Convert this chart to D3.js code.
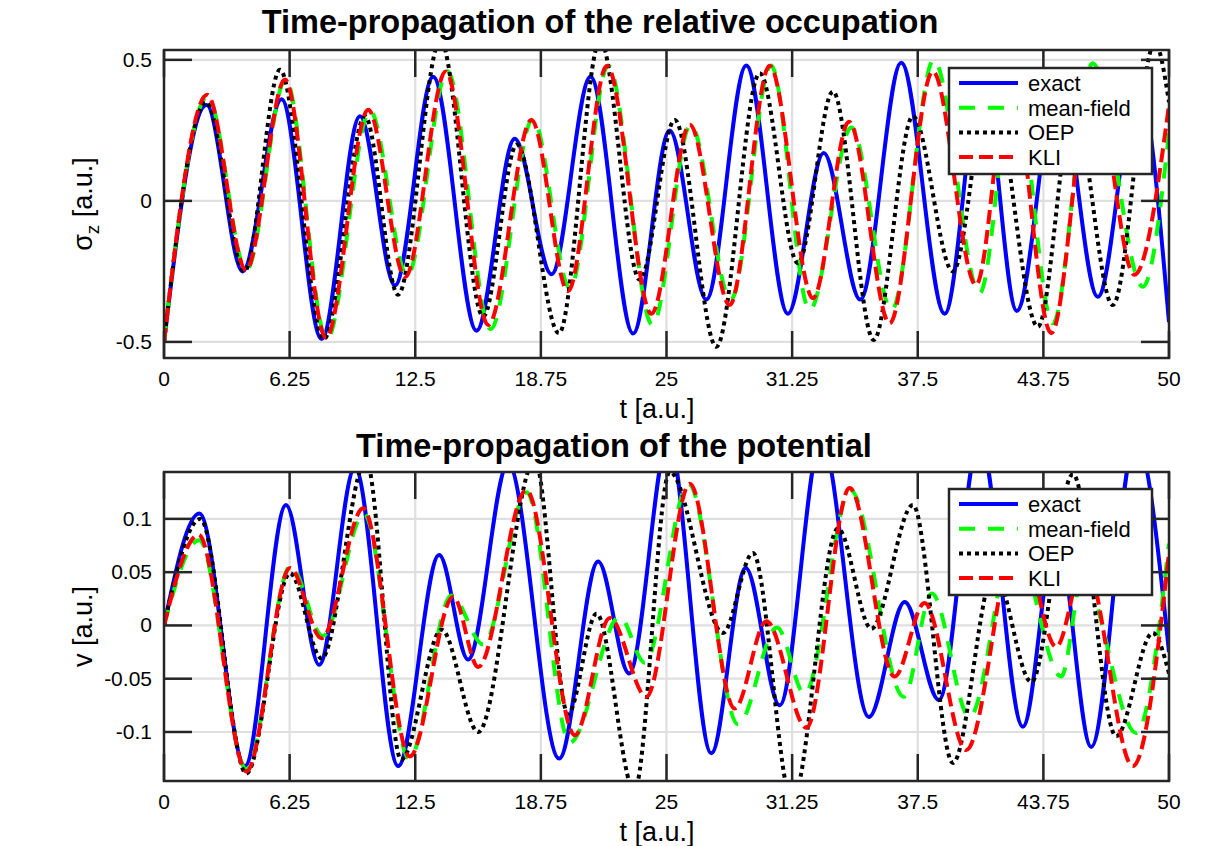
<!DOCTYPE html>
<html>
<head>
    <meta charset="UTF-8">
    <title>Time-propagation</title>
    <style>
        body { margin: 0; background: #fff; }
        text { font-family: "Liberation Sans", Arial, Helvetica, sans-serif; fill: #000; }
    </style>
</head>
<body>
    <div id="chart"></div>

    <script src="https://cdn.jsdelivr.net/npm/d3@7"></script>
    <script>
        // ticks
        var tTicks = [0, 6.25, 12.5, 18.75, 25, 31.25, 37.5, 43.75, 50];
        var occTicks = [-0.5, 0, 0.5];
        var potTicks = [-0.1, -0.05, 0, 0.05, 0.1];
        var seriesNames = ["exact", "mean-field", "OEP", "KLI"];

        // relative occupation sigma_z, [t, value] read at the turning points
        var occExact = [[0,-0.5],[2.12,0.34],[3.91,-0.25],[5.85,0.36],[7.84,-0.49],[9.75,0.30],[11.49,-0.30],
            [13.39,0.44],[15.55,-0.46],[17.45,0.22],[19.28,-0.26],[21.22,0.44],[23.34,-0.47],[25.16,0.25],
            [26.98,-0.35],[28.97,0.48],[31.04,-0.40],[32.82,0.17],[34.64,-0.35],[36.68,0.49],[38.84,-0.40],
            [40.7,0.45],[42.43,-0.39],[44.47,0.43],[46.46,-0.34],[48.45,0.42],[50,-0.43]];
        var occMeanField = [[0,-0.5],[2.17,0.37],[4.1,-0.245],[6.05,0.43],[8.1,-0.49],[10.25,0.32],[12.1,-0.265],
            [14.1,0.46],[16.25,-0.455],[18.35,0.29],[20.2,-0.31],[22.1,0.48],[24.3,-0.44],[26.2,0.27],
            [28.2,-0.35],[30.2,0.48],[32.12,-0.387],[34.2,0.26],[36.2,-0.387],[38.3,0.50],[40.58,-0.327],
            [42.3,0.43],[44.22,-0.434],[46.2,0.488],[48.7,-0.304],[50,0.24]];
        var occOEP = [[0,-0.5],[2.1,0.35],[4.0,-0.25],[5.77,0.465],[7.95,-0.49],[10.0,0.30],[11.64,-0.333],
            [13.75,0.57],[15.88,-0.41],[17.55,0.2],[19.65,-0.469],[21.7,0.57],[23.67,-0.28],[25.41,0.287],
            [27.48,-0.517],[29.64,0.453],[31.54,-0.221],[33.28,0.388],[35.31,-0.493],[37.26,0.30],[39.25,-0.25],
            [41.1,0.42],[43.48,-0.446],[45.25,0.33],[47.2,-0.369],[49.3,0.56],[50,0.35]];
        var occKLI = [[0,-0.5],[2.15,0.376],[4.08,-0.245],[6.02,0.43],[8.06,-0.486],[10.16,0.323],[12.0,-0.27],
            [14.02,0.459],[16.13,-0.44],[18.28,0.287],[20.1,-0.32],[22.04,0.479],[24.25,-0.40],[26.16,0.27],
            [28.14,-0.369],[30.13,0.479],[32.29,-0.345],[34.08,0.281],[36.1,-0.434],[38.25,0.459],[40.4,-0.298],
            [42.1,0.44],[44.14,-0.469],[46.2,0.45],[48.28,-0.262],[50,0.34]];

        // potential v
        var potExact = [[0,0],[1.76,0.105],[4.03,-0.132],[6.07,0.113],[7.72,-0.037],[9.5,0.148],[11.65,-0.132],
            [13.69,0.066],[15.13,-0.032],[17.12,0.152],[19.66,-0.125],[21.6,0.06],[23.14,-0.045],[25.1,0.175],
            [27.23,-0.12],[28.94,0.054],[30.63,-0.075],[32.7,0.175],[35.07,-0.086],[36.85,0.022],[38.55,-0.07],
            [40.58,0.175],[42.73,-0.095],[44.4,0.09],[46.13,-0.114],[48.35,0.175],[50,-0.025]];
        var potMeanField = [[0,0],[1.75,0.08],[4.1,-0.135],[6.3,0.056],[7.9,-0.01],[9.95,0.105],[12.2,-0.125],
            [14.3,0.028],[15.88,-0.018],[18.05,0.125],[20.19,-0.11],[22.67,0.008],[23.92,-0.035],[26.1,0.133],
            [28.56,-0.093],[30.5,-0.002],[31.87,-0.064],[34.15,0.127],[36.8,-0.067],[38.2,0.03],[40.08,-0.086],
            [42.3,0.08],[44.64,-0.048],[45.7,0.045],[48.37,-0.101],[50,0.077]];
        var potOEP = [[0,0],[1.8,0.1],[4.1,-0.139],[6.27,0.049],[7.84,-0.031],[10.05,0.155],[11.8,-0.126],
            [13.81,-0.004],[15.63,-0.1],[18.45,0.155],[20.1,-0.083],[21.52,0.011],[23.4,-0.155],[25.16,0.144],
            [27.81,-0.007],[29.3,0.068],[31.25,-0.165],[33.53,0.091],[35.19,-0.003],[37.26,0.113],[39.25,-0.129],
            [41.3,0.05],[43.15,-0.053],[45.22,0.142],[47.37,-0.104],[49.19,-0.007],[50,-0.045]];
        var potKLI = [[0,0],[1.72,0.085],[4.11,-0.137],[6.27,0.054],[7.84,-0.012],[9.91,0.11],[12.23,-0.123],
            [14.39,0.027],[15.63,-0.039],[18.03,0.127],[20.44,-0.103],[22.18,0.007],[24.0,-0.067],[26.16,0.133],
            [28.39,-0.078],[29.97,0.004],[31.96,-0.096],[34.11,0.129],[36.35,-0.048],[37.84,0.021],[39.91,-0.117],
            [42.5,0.09],[44.39,-0.02],[45.8,0.06],[48.2,-0.132],[50,0.068]];

        var width = 1212;
        var height = 846;

        // line style per series (same order as seriesNames)
        var styles = [
            { color: "#0000ff", dash: null },
            { color: "#00ff00", dash: "16,13" },
            { color: "#000000", dash: "4,4" },
            { color: "#ff0000", dash: "14,6" }
        ];

        var svg = d3.select("#chart")
            .append("svg")
            .attr("width", width)
            .attr("height", height);

        var panels = [
            { id: "occ", series: [occExact, occMeanField, occOEP, occKLI], top: 50, bottom: 358,
              yDomain: [-0.557, 0.535], yTicks: occTicks, title: "Time-propagation of the relative occupation",
              titleX: 600, titleY: 33, legendY: 68, label: "sigma" },
            { id: "pot", series: [potExact, potMeanField, potOEP, potKLI], top: 472, bottom: 781,
              yDomain: [-0.146, 0.144], yTicks: potTicks, title: "Time-propagation of the potential",
              titleX: 614, titleY: 457, legendY: 489, label: "v" }
        ];

        var left = 164, right = 1169;

        var x = d3.scaleLinear().domain([0, 50]).range([left, right]);

        panels.forEach(function (p) {
            var y = d3.scaleLinear().domain(p.yDomain).range([p.bottom, p.top]);
            var g = svg.append("g");

            svg.append("clipPath").attr("id", "clip-" + p.id)
                .append("rect")
                .attr("x", left).attr("y", p.top)
                .attr("width", right - left).attr("height", p.bottom - p.top);

            // grid
            g.append("g").selectAll("line").data(tTicks).enter().append("line")
                .attr("x1", function (d) { return x(d); }).attr("x2", function (d) { return x(d); })
                .attr("y1", p.top).attr("y2", p.bottom)
                .style("stroke", "#dfdfdf").style("stroke-width", 2.2);
            g.append("g").selectAll("line").data(p.yTicks).enter().append("line")
                .attr("y1", function (d) { return y(d); }).attr("y2", function (d) { return y(d); })
                .attr("x1", left).attr("x2", right)
                .style("stroke", "#dfdfdf").style("stroke-width", 2.2);

            // curves
            var line = d3.line()
                .x(function (d) { return x(d[0]); })
                .y(function (d) { return y(d[1]); })
                .curve(d3.curveMonotoneX);

            g.append("g").attr("clip-path", "url(#clip-" + p.id + ")")
                .selectAll("path").data(p.series).enter().append("path")
                .attr("d", line)
                .style("fill", "none")
                .style("stroke", function (d, i) { return styles[i].color; })
                .style("stroke-width", 4)
                .style("stroke-dasharray", function (d, i) { return styles[i].dash; });

            // box + inward ticks on all four sides
            var axisColor = "#262626";
            g.append("rect")
                .attr("x", left).attr("y", p.top)
                .attr("width", right - left).attr("height", p.bottom - p.top)
                .style("fill", "none").style("stroke", axisColor).style("stroke-width", 2.5);

            var tl = 27;
            tTicks.forEach(function (t) {
                g.append("line").attr("x1", x(t)).attr("x2", x(t)).attr("y1", p.bottom).attr("y2", p.bottom - tl)
                    .style("stroke", axisColor).style("stroke-width", 2.5);
                g.append("line").attr("x1", x(t)).attr("x2", x(t)).attr("y1", p.top).attr("y2", p.top + tl)
                    .style("stroke", axisColor).style("stroke-width", 2.5);
                g.append("text").attr("x", x(t)).attr("y", p.bottom + 28)
                    .attr("text-anchor", "middle").style("font-size", "21px")
                    .text(String(t));
            });
            p.yTicks.forEach(function (v) {
                g.append("line").attr("x1", left).attr("x2", left + tl + 1).attr("y1", y(v)).attr("y2", y(v))
                    .style("stroke", axisColor).style("stroke-width", 2.5);
                g.append("line").attr("x1", right).attr("x2", right - tl - 1).attr("y1", y(v)).attr("y2", y(v))
                    .style("stroke", axisColor).style("stroke-width", 2.5);
                g.append("text").attr("x", 152).attr("y", y(v) + 7)
                    .attr("text-anchor", "end").style("font-size", "21px")
                    .text(String(v));
            });

            // titles and labels
            g.append("text").attr("x", p.titleX).attr("y", p.titleY)
                .attr("text-anchor", "middle")
                .style("font-size", "32.5px").style("font-weight", "bold")
                .text(p.title);

            g.append("text").attr("x", 657).attr("y", p.bottom + 60)
                .attr("text-anchor", "middle").style("font-size", "27px")
                .text("t [a.u.]");

            var yl = g.append("text")
                .attr("transform", "translate(92," + ((p.top + p.bottom) / 2) + ") rotate(-90)")
                .attr("text-anchor", "middle").style("font-size", "27px");
            if (p.label === "sigma") {
                yl.append("tspan").text("\u03c3");
                yl.append("tspan").attr("dy", 7).style("font-size", "19px").text("z");
                yl.append("tspan").attr("dy", -7).text(" [a.u.]");
            } else {
                yl.text("v [a.u.]");
            }

            // legend
            var lg = g.append("g").attr("transform", "translate(949," + p.legendY + ")");
            lg.append("rect").attr("width", 203).attr("height", 106)
                .style("fill", "#fff").style("stroke", "#262626").style("stroke-width", 2.5);
            seriesNames.forEach(function (name, i) {
                var ry = 15 + i * 24.7;
                lg.append("line").attr("x1", 10).attr("x2", 69).attr("y1", ry).attr("y2", ry)
                    .style("stroke", styles[i].color).style("stroke-width", 4)
                    .style("stroke-dasharray", styles[i].dash);
                lg.append("text").attr("x", 79).attr("y", ry + 8)
                    .style("font-size", "22px").text(name);
            });
        });
    </script>
</body>
</html>
